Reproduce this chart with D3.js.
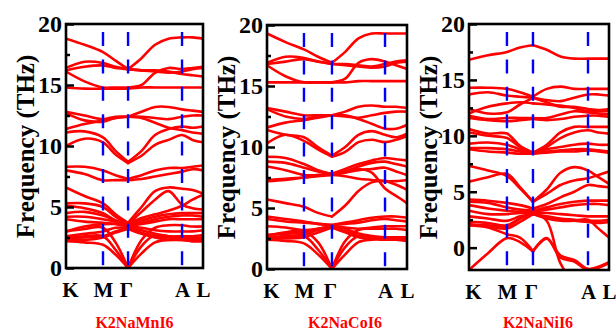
<!DOCTYPE html>
<html>
<head>
<meta charset="utf-8">
<script src="https://cdn.jsdelivr.net/npm/d3@7"></script>
<style>
  body { margin: 0; background: #fff; }
  svg { display: block; }
  text { font-family: "Liberation Serif", "Times New Roman", serif; font-weight: bold; }
</style>
</head>
<body>
<svg id="chart" width="616" height="331"></svg>
<script>
// High-symmetry path labels and the frequency ticks (THz)
const kLabels = ["K", "M", "Γ", "A", "L"];
const majorTicks = [0, 5, 10, 15, 20];
const minorTicks = [2.5, 7.5, 12.5, 17.5];
const compounds = ["K2NaMnI6", "K2NaCoI6", "K2NaNiI6"];

// Positions of K, M, Γ, A, L along each normalised path
const mnSym = [0, 0.270, 0.453, 0.847, 1];
const coSym = [0, 0.264, 0.464, 0.843, 1];
const niSym = [0, 0.271, 0.457, 0.850, 1];

// Band frequencies (THz) sampled at: K, K–M, M, M–Γ, Γ, three points on Γ–A, A, A–L, L
const mnBands = [
  [18.8, 18.3, 17.7, 17.0, 16.3, 17.2, 18.3, 18.8, 18.9, 18.9, 18.8],
  [16.4, 16.9, 16.8, 16.5, 16.3, 16.2, 16.1, 16.0, 16.1, 16.3, 16.4],
  [16.2, 16.5, 16.6, 16.4, 16.3, 16.2, 16.2, 16.1, 15.9, 15.8, 15.7],
  [16.1, 15.3, 14.8, 14.8, 14.8, 15.0, 16.0, 16.4, 16.3, 16.4, 16.5],
  [14.8, 14.7, 14.7, 14.7, 14.7, 14.8, 14.8, 14.8, 14.8, 14.8, 14.8],
  [12.8, 12.5, 12.2, 12.4, 12.4, 12.8, 13.2, 13.2, 13.0, 12.9, 12.8],
  [12.7, 12.1, 12.0, 12.3, 12.4, 12.3, 11.9, 11.5, 11.3, 11.1, 11.0],
  [11.4, 11.8, 12.1, 12.3, 12.4, 12.4, 12.3, 12.2, 12.4, 12.5, 12.5],
  [11.1, 11.2, 10.7, 9.6, 8.7, 9.6, 10.9, 11.4, 11.6, 11.5, 11.6],
  [10.0, 10.6, 10.3, 9.3, 8.6, 9.2, 10.1, 10.5, 10.9, 10.5, 10.3],
  [8.3, 8.3, 8.0, 7.6, 7.3, 7.6, 8.0, 8.2, 8.2, 8.3, 8.4],
  [8.0, 7.7, 7.2, 7.2, 7.2, 7.3, 7.5, 7.7, 7.9, 8.1, 8.0],
  [6.6, 5.9, 5.3, 4.4, 3.7, 5.0, 6.3, 6.6, 6.5, 6.4, 6.1],
  [5.3, 5.3, 5.0, 4.2, 3.6, 4.6, 5.6, 6.3, 5.2, 4.9, 4.8],
  [5.1, 4.9, 4.5, 3.9, 3.6, 4.1, 4.4, 4.7, 5.1, 5.6, 6.0],
  [4.5, 4.6, 4.3, 3.9, 3.5, 3.9, 4.2, 4.4, 4.5, 4.5, 4.5],
  [4.2, 4.2, 4.0, 3.8, 3.5, 3.7, 4.0, 4.2, 4.3, 4.3, 4.2],
  [4.0, 3.8, 3.7, 3.6, 3.4, 3.6, 3.8, 4.0, 4.0, 4.0, 4.0],
  [3.0, 3.4, 3.6, 3.6, 3.4, 3.3, 3.1, 3.0, 3.0, 3.0, 3.1],
  [2.6, 2.8, 3.0, 3.3, 3.3, 3.1, 2.8, 2.6, 2.6, 2.6, 2.7],
  [2.4, 2.5, 2.6, 3.0, 3.3, 2.9, 2.6, 2.5, 2.4, 2.4, 2.4],
  [2.3, 2.3, 2.5, 2.9, 3.2, 2.8, 2.5, 2.3, 2.3, 2.2, 2.2],
  [2.2, 2.1, 1.9, 1.1, 0.0, 1.2, 2.1, 2.3, 2.3, 2.2, 2.2],
  [2.5, 2.6, 2.6, 1.5, 0.0, 1.8, 2.7, 2.6, 2.5, 2.5, 2.5],
  [3.0, 3.2, 3.3, 2.1, 0.0, 2.3, 3.3, 3.5, 3.5, 3.4, 3.4]
];

const coBands = [
  [19.3, 18.6, 18.0, 17.4, 16.9, 17.8, 18.9, 19.3, 19.3, 19.3, 19.3],
  [16.9, 17.4, 17.3, 17.0, 16.8, 16.8, 16.7, 16.6, 16.8, 17.0, 17.1],
  [16.8, 17.0, 17.2, 17.0, 16.8, 16.7, 16.6, 16.5, 16.6, 16.9, 17.0],
  [16.7, 15.8, 15.3, 15.3, 15.3, 15.6, 16.9, 17.2, 17.0, 16.7, 16.4],
  [15.3, 15.3, 15.3, 15.3, 15.3, 15.3, 15.4, 15.4, 15.4, 15.4, 15.4],
  [13.2, 12.9, 12.6, 12.6, 12.6, 12.9, 13.3, 13.4, 13.3, 13.3, 13.2],
  [13.1, 12.5, 12.3, 12.5, 12.6, 12.6, 12.3, 11.9, 11.5, 11.5, 11.8],
  [11.6, 12.0, 12.2, 12.4, 12.6, 12.5, 12.4, 12.6, 12.8, 12.9, 12.9],
  [11.4, 11.0, 10.8, 10.0, 9.3, 10.0, 11.0, 11.3, 11.0, 10.8, 11.1],
  [10.3, 11.0, 10.5, 9.8, 9.2, 9.6, 10.4, 10.6, 10.4, 10.6, 10.9],
  [9.2, 9.1, 8.6, 8.1, 7.8, 8.2, 8.6, 8.9, 9.1, 9.0, 8.9],
  [8.8, 8.7, 8.3, 8.0, 7.8, 8.0, 8.4, 8.7, 8.8, 8.6, 8.4],
  [8.4, 8.1, 7.7, 7.7, 7.7, 7.9, 8.1, 8.2, 8.3, 8.0, 7.7],
  [7.3, 7.4, 7.5, 7.6, 7.7, 7.6, 7.4, 7.3, 7.2, 7.2, 7.3],
  [7.2, 7.3, 7.5, 7.7, 7.8, 8.0, 8.2, 7.9, 6.6, 6.0, 5.4],
  [5.7, 5.4, 5.1, 4.6, 4.3, 5.2, 6.4, 7.1, 7.2, 6.9, 6.5],
  [4.3, 4.1, 3.9, 3.7, 3.6, 3.8, 4.0, 4.2, 4.3, 4.3, 4.2],
  [4.1, 3.9, 3.8, 3.7, 3.6, 3.7, 3.8, 4.0, 4.1, 4.0, 3.9],
  [3.5, 3.4, 3.2, 3.3, 3.5, 3.4, 3.3, 3.4, 3.5, 3.5, 3.5],
  [2.8, 2.9, 3.0, 3.3, 3.5, 3.3, 2.9, 2.7, 2.6, 2.6, 2.6],
  [2.6, 2.7, 2.8, 3.2, 3.4, 3.1, 2.7, 2.6, 2.5, 2.5, 2.4],
  [2.5, 2.5, 2.6, 3.0, 3.4, 3.0, 2.6, 2.5, 2.5, 2.4, 2.3],
  [2.4, 2.3, 2.1, 1.2, 0.0, 1.2, 2.2, 2.4, 2.4, 2.4, 2.4],
  [2.5, 2.6, 2.7, 1.6, 0.0, 1.8, 2.7, 2.6, 2.5, 2.5, 2.5],
  [2.7, 3.0, 3.1, 2.2, 0.0, 2.3, 3.2, 3.3, 3.3, 3.3, 3.2]
];

const niBands = [
  [16.8, 17.2, 17.5, 17.9, 18.1, 17.7, 17.1, 16.9, 16.9, 16.9, 16.9],
  [14.3, 14.3, 14.2, 13.9, 13.5, 14.2, 14.4, 14.2, 14.2, 14.2, 14.2],
  [13.7, 13.9, 13.6, 13.5, 13.4, 13.0, 12.6, 12.6, 12.4, 12.3, 12.4],
  [12.4, 12.0, 12.1, 12.8, 13.4, 13.2, 13.1, 13.4, 13.7, 13.7, 13.6],
  [12.0, 12.6, 12.9, 13.0, 12.9, 12.8, 12.7, 12.5, 12.2, 12.2, 12.2],
  [11.8, 11.5, 11.6, 11.6, 11.6, 11.6, 11.9, 12.2, 12.1, 12.0, 11.9],
  [11.6, 11.4, 11.3, 11.4, 11.5, 11.4, 11.5, 11.7, 11.8, 11.8, 11.7],
  [10.6, 10.2, 10.2, 9.1, 8.5, 9.2, 10.3, 10.8, 10.8, 10.8, 10.8],
  [10.3, 10.0, 9.8, 9.0, 8.4, 9.0, 9.8, 10.3, 10.5, 10.3, 10.2],
  [9.3, 9.4, 9.2, 8.8, 8.5, 8.8, 9.0, 9.2, 9.3, 9.2, 9.2],
  [8.9, 8.9, 8.8, 8.6, 8.4, 8.6, 8.7, 8.8, 8.8, 8.7, 8.6],
  [8.8, 8.6, 8.5, 8.4, 8.4, 8.5, 8.6, 8.6, 8.7, 8.6, 8.5],
  [7.3, 6.9, 6.4, 5.3, 4.1, 5.2, 6.7, 7.2, 6.9, 6.3, 5.7],
  [5.9, 6.3, 6.6, 5.4, 4.1, 4.8, 5.6, 6.0, 6.2, 6.5, 6.8],
  [4.3, 4.2, 4.0, 3.8, 3.5, 3.9, 4.5, 5.0, 5.6, 5.5, 5.4],
  [4.1, 4.0, 3.6, 3.4, 3.3, 3.6, 3.9, 4.1, 4.2, 4.2, 4.2],
  [3.8, 3.5, 3.3, 3.2, 3.2, 3.4, 3.6, 3.8, 3.9, 3.9, 3.8],
  [3.3, 3.0, 3.0, 3.1, 3.1, 3.1, 3.0, 2.9, 2.8, 2.8, 2.8],
  [2.8, 2.6, 2.4, 2.8, 3.0, 2.8, 2.6, 2.5, 2.4, 2.4, 2.5],
  [2.3, 2.2, 2.0, 2.6, 3.0, 2.7, 2.5, 2.4, 2.3, 2.2, 2.3],
  [2.1, 1.9, 1.7, 2.3, 3.0, 2.6, 2.4, 2.4, 2.5, 1.7, 0.9],
  [2.0, 1.8, 1.2, 0.9, -0.3, 0.8, -0.7, -1.1, -1.9, -1.7, -1.3],
  [-2.0, -0.5, 0.85, 0.5, -0.35, 0.85, -0.9, -1.25, -2.0, -1.8, -1.35],
  [2.0, 2.0, 1.9, 2.6, 3.2, 2.4, -1.4, -3.0, -3.0, -3.0, -3.0]
];

// Panel frames on the page
const panels = [
  { name: compounds[0], sym: mnSym, bands: mnBands, x0: 66,  x1: 203, yTop: 24, yBot: 268, domain: [0, 20],  nameDx: 0 },
  { name: compounds[1], sym: coSym, bands: coBands, x0: 267, x1: 407, yTop: 25, yBot: 269, domain: [0, 20],  nameDx: 8 },
  { name: compounds[2], sym: niSym, bands: niBands, x0: 469, x1: 609, yTop: 24, yBot: 270, domain: [-2, 20], nameDx: -1 }
];

const svg = d3.select("#chart");
const RED = "#ff0000", BLUE = "#0000ff";

// Sample positions along the path from the five high-symmetry points
function kGrid(s) {
  const q = (a, b, t) => a + (b - a) * t;
  return [s[0], q(s[0], s[1], 0.5), s[1], q(s[1], s[2], 0.5), s[2],
          q(s[2], s[3], 0.25), q(s[2], s[3], 0.5), q(s[2], s[3], 0.75), s[3],
          q(s[3], s[4], 0.5), s[4]];
}

panels.forEach((p, i) => {
  const x = d3.scaleLinear().domain([0, 1]).range([p.x0, p.x1]);
  const y = d3.scaleLinear().domain(p.domain).range([p.yBot, p.yTop]);
  const grid = kGrid(p.sym);
  const g = svg.append("g");

  const clipId = "clip" + i;
  svg.append("clipPath").attr("id", clipId)
    .append("rect").attr("x", p.x0).attr("y", p.yTop)
    .attr("width", p.x1 - p.x0).attr("height", p.yBot - p.yTop);

  // Phonon branches, split at Γ so the acoustic modes meet in a sharp point
  const line = d3.line().x(d => x(d[0])).y(d => y(d[1])).curve(d3.curveCatmullRom.alpha(0.5));
  const bandG = g.append("g").attr("clip-path", `url(#${clipId})`);
  p.bands.forEach(b => {
    const pts = b.map((v, j) => [grid[j], v]);
    [pts.slice(0, 5), pts.slice(4)].forEach(seg => {
      bandG.append("path").attr("d", line(seg))
        .attr("fill", "none").attr("stroke", RED)
        .attr("stroke-width", 2.6).attr("stroke-linejoin", "round")
        .attr("stroke-linecap", "round");
    });
  });

  // Dashed markers at M, Γ and A
  g.selectAll("line.sym").data(p.sym.slice(1, 4)).join("line")
    .attr("x1", d => x(d)).attr("x2", d => x(d))
    .attr("y1", p.yTop).attr("y2", p.yBot)
    .attr("stroke", BLUE).attr("stroke-width", 2.4)
    .attr("stroke-dasharray", "14,13.4").attr("stroke-dashoffset", 19.4);

  // Frame
  g.append("rect").attr("x", p.x0).attr("y", p.yTop)
    .attr("width", p.x1 - p.x0).attr("height", p.yBot - p.yTop)
    .attr("fill", "none").attr("stroke", "#000").attr("stroke-width", 2.6);

  // Frequency axis: inward ticks, numbers outside
  const yAxis = g.append("g").attr("transform", `translate(${p.x0},0)`)
    .call(d3.axisLeft(y).tickValues(majorTicks).tickSize(-8).tickPadding(4));
  yAxis.select(".domain").remove();
  yAxis.selectAll(".tick line").attr("stroke", "#000").attr("stroke-width", 2.5);
  yAxis.selectAll(".tick text").attr("font-size", 24).attr("fill", "#000")
    .style("font-family", '"Liberation Serif", "Times New Roman", serif').style("font-weight", "bold");

  const yMinor = g.append("g").attr("transform", `translate(${p.x0},0)`)
    .call(d3.axisLeft(y).tickValues(minorTicks).tickSize(-4).tickFormat(""));
  yMinor.select(".domain").remove();
  yMinor.selectAll(".tick line").attr("stroke", "#000").attr("stroke-width", 2.5);

  // Path labels
  const xAxis = g.append("g").attr("transform", `translate(0,${p.yBot})`)
    .call(d3.axisBottom(x).tickValues(p.sym).tickSize(0).tickPadding(14)
      .tickFormat((d, j) => kLabels[j]));
  xAxis.select(".domain").remove();
  xAxis.selectAll(".tick text").attr("font-size", 21).attr("fill", "#000")
    .style("font-family", '"Liberation Serif", "Times New Roman", serif').style("font-weight", "bold")
    .attr("dx", (d, j) => j === 0 ? 4 : (j === 2 ? -2 : 0));

  // Axis title
  g.append("text")
    .attr("transform", `translate(${p.x0 - 41},${(p.yTop + p.yBot) / 2 + 0.5}) rotate(-90)`)
    .attr("text-anchor", "middle").attr("dominant-baseline", "central")
    .attr("font-size", 25).attr("fill", "#000")
    .text("Frequency (THz)");

  // Compound name
  g.append("text")
    .attr("x", (p.x0 + p.x1) / 2 + p.nameDx).attr("y", 328)
    .attr("text-anchor", "middle").attr("font-size", 16).attr("fill", RED)
    .text(p.name);
});
</script>
</body>
</html>
